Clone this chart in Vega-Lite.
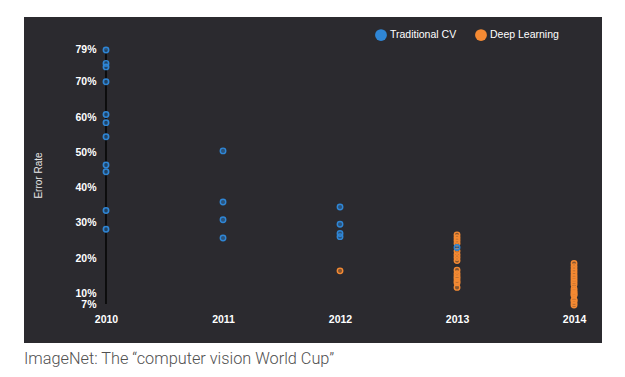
{
  "$schema": "https://vega.github.io/schema/vega-lite/v6.json",
  "width": 578,
  "height": 326,
  "autosize": {"type": "none"},
  "padding": {"left": 24, "top": 17, "right": 23, "bottom": 34},
  "background": "white",
  "config": {
    "view": {"fill": "#2b2a2f", "stroke": null},
    "font": "Liberation Sans"
  },
  "title": {
    "text": "ImageNet: The “computer vision World Cup”",
    "orient": "bottom",
    "anchor": "start",
    "offset": 8,
    "font": "Roboto",
    "fontWeight": 300,
    "fontSize": 16.3,
    "color": "#505050"
  },
  "data": {
    "values": [
      {"year": 2012, "err": 16.4, "method": "Deep Learning"},
      {"year": 2013, "err": 26.6, "method": "Deep Learning"},
      {"year": 2013, "err": 25.8, "method": "Deep Learning"},
      {"year": 2013, "err": 25.0, "method": "Deep Learning"},
      {"year": 2013, "err": 24.2, "method": "Deep Learning"},
      {"year": 2013, "err": 22.0, "method": "Deep Learning"},
      {"year": 2013, "err": 21.0, "method": "Deep Learning"},
      {"year": 2013, "err": 20.2, "method": "Deep Learning"},
      {"year": 2013, "err": 19.3, "method": "Deep Learning"},
      {"year": 2013, "err": 16.6, "method": "Deep Learning"},
      {"year": 2013, "err": 15.6, "method": "Deep Learning"},
      {"year": 2013, "err": 14.8, "method": "Deep Learning"},
      {"year": 2013, "err": 14.2, "method": "Deep Learning"},
      {"year": 2013, "err": 13.5, "method": "Deep Learning"},
      {"year": 2013, "err": 13.0, "method": "Deep Learning"},
      {"year": 2013, "err": 11.7, "method": "Deep Learning"},
      {"year": 2014, "err": 18.5, "method": "Deep Learning"},
      {"year": 2014, "err": 17.6, "method": "Deep Learning"},
      {"year": 2014, "err": 16.8, "method": "Deep Learning"},
      {"year": 2014, "err": 16.0, "method": "Deep Learning"},
      {"year": 2014, "err": 15.2, "method": "Deep Learning"},
      {"year": 2014, "err": 14.5, "method": "Deep Learning"},
      {"year": 2014, "err": 13.8, "method": "Deep Learning"},
      {"year": 2014, "err": 13.2, "method": "Deep Learning"},
      {"year": 2014, "err": 12.5, "method": "Deep Learning"},
      {"year": 2014, "err": 11.3, "method": "Deep Learning"},
      {"year": 2014, "err": 10.7, "method": "Deep Learning"},
      {"year": 2014, "err": 10.2, "method": "Deep Learning"},
      {"year": 2014, "err": 9.8, "method": "Deep Learning"},
      {"year": 2014, "err": 9.5, "method": "Deep Learning"},
      {"year": 2014, "err": 8.1, "method": "Deep Learning"},
      {"year": 2014, "err": 8.06, "method": "Deep Learning"},
      {"year": 2014, "err": 7.3, "method": "Deep Learning"},
      {"year": 2014, "err": 6.7, "method": "Deep Learning"},
      {"year": 2010, "err": 79.0, "method": "Traditional CV"},
      {"year": 2010, "err": 75.2, "method": "Traditional CV"},
      {"year": 2010, "err": 74.2, "method": "Traditional CV"},
      {"year": 2010, "err": 70.0, "method": "Traditional CV"},
      {"year": 2010, "err": 60.7, "method": "Traditional CV"},
      {"year": 2010, "err": 58.4, "method": "Traditional CV"},
      {"year": 2010, "err": 54.4, "method": "Traditional CV"},
      {"year": 2010, "err": 46.4, "method": "Traditional CV"},
      {"year": 2010, "err": 44.5, "method": "Traditional CV"},
      {"year": 2010, "err": 33.5, "method": "Traditional CV"},
      {"year": 2010, "err": 28.2, "method": "Traditional CV"},
      {"year": 2011, "err": 50.4, "method": "Traditional CV"},
      {"year": 2011, "err": 35.9, "method": "Traditional CV"},
      {"year": 2011, "err": 30.9, "method": "Traditional CV"},
      {"year": 2011, "err": 25.7, "method": "Traditional CV"},
      {"year": 2012, "err": 34.5, "method": "Traditional CV"},
      {"year": 2012, "err": 29.6, "method": "Traditional CV"},
      {"year": 2012, "err": 27.0, "method": "Traditional CV"},
      {"year": 2012, "err": 26.1, "method": "Traditional CV"},
      {"year": 2013, "err": 23.0, "method": "Traditional CV"}
    ]
  },
  "layer": [
    {
      "mark": {"type": "rule", "color": "#0d0d0f", "strokeWidth": 1.5},
      "encoding": {
        "x": {"datum": 2010, "type": "quantitative"},
        "y": {"datum": 7, "type": "quantitative"},
        "y2": {"datum": 79}
      }
    },
    {
      "mark": {"type": "point", "filled": true, "size": 30, "fillOpacity": 0.45, "strokeWidth": 1.4, "opacity": 1},
      "encoding": {
        "x": {
          "field": "year",
          "type": "quantitative",
          "scale": {"domain": [2009.299, 2014.239], "nice": false, "zero": false},
          "axis": {
            "title": null,
            "values": [2010, 2011, 2012, 2013, 2014],
            "format": "d",
            "orient": "bottom",
            "offset": -36,
            "domain": false,
            "ticks": false,
            "grid": false,
            "labelPadding": 7,
            "labelColor": "#ffffff",
            "labelFontWeight": "bold",
            "labelFontSize": 10.5,
            "labelFont": "Liberation Sans"
          }
        },
        "y": {
          "field": "err",
          "type": "quantitative",
          "scale": {"domain": [-4.05, 88.35], "nice": false, "zero": false},
          "axis": {
            "title": "Error Rate",
            "values": [7, 10, 20, 30, 40, 50, 60, 70, 79],
            "labelExpr": "datum.value + '%'",
            "offset": -82,
            "domain": false,
            "ticks": false,
            "grid": false,
            "labelPadding": 10,
            "labelColor": "#ffffff",
            "labelFontWeight": "bold",
            "labelFontSize": 10.5,
            "labelFont": "Liberation Sans",
            "titleColor": "#e8e8e8",
            "titleFont": "Liberation Sans",
            "titleFontWeight": "normal",
            "titleFontSize": 10,
            "titleX": -63,
            "titleY": 158
          }
        },
        "stroke": {
          "field": "method",
          "type": "nominal",
          "scale": {"domain": ["Traditional CV", "Deep Learning"], "range": ["#2f86d6", "#f58a33"]},
          "legend": null
        },
        "color": {
          "field": "method",
          "type": "nominal",
          "scale": {"domain": ["Traditional CV", "Deep Learning"], "range": ["#2f86d6", "#f58a33"]},
          "legend": {
            "title": null,
            "orient": "none",
            "legendX": 351,
            "legendY": 12,
            "direction": "horizontal",
            "columns": 2,
            "columnPadding": 18,
            "symbolType": "circle",
            "symbolSize": 140,
            "symbolOpacity": 1,
            "symbolStrokeWidth": 0,
            "labelColor": "#ffffff",
            "labelFont": "Liberation Sans",
            "labelFontSize": 10.5,
            "labelOffset": 3
          }
        }
      }
    }
  ]
}
